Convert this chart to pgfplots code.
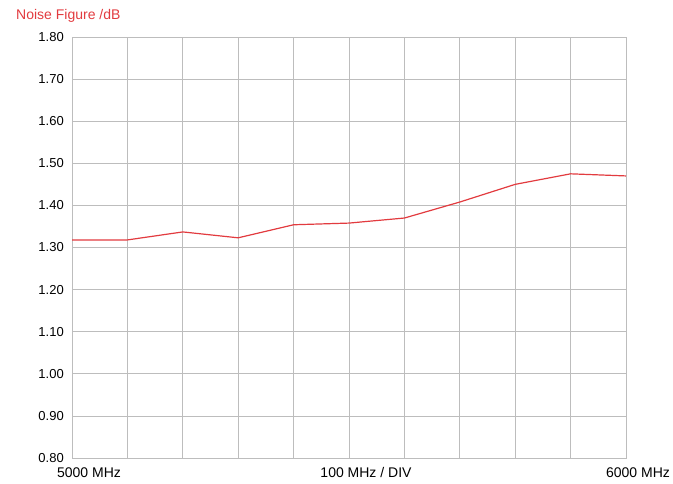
\documentclass[border=0pt]{standalone}
\usepackage{pgfplots}
\pgfplotsset{compat=1.18}
\usepackage{fontspec}
\setmainfont{Liberation Sans}
\definecolor{nfred}{HTML}{E23B3F}
\definecolor{gridgray}{HTML}{BDBDBD}
\begin{document}
\fontsize{12}{14}\selectfont
\begin{tikzpicture}[x=1pt,y=1pt]
\path[use as bounding box] (0,0) rectangle (673,483);
\begin{axis}[
  at={(72pt,25pt)}, anchor=south west,
  scale only axis, width=554pt, height=421pt,
  xmin=0, xmax=10, ymin=0.8, ymax=1.8,
  xtick={0,...,10}, xticklabels={},
  ytick={0.8,0.9,...,1.8},
  y tick label style={/pgf/number format/fixed, /pgf/number format/fixed zerofill, /pgf/number format/precision=2, font=\fontsize{13}{15}\selectfont, xshift=-4pt},
  /pgf/number format/assume math mode=true,
  grid=major,
  major grid style={gridgray, line width=0.8pt},
  axis line style={gridgray, line width=0.8pt},
  tick style={draw=none},
  clip=false,
]
\addplot[nfred, line width=1.2pt, mark=none] coordinates {
(0,1.318) (1,1.318) (2,1.337) (3,1.323) (4,1.354) (5,1.358) (6,1.370) (7,1.408) (8,1.450) (9,1.475) (10,1.470)
};
\end{axis}
\node[anchor=base west, inner sep=0pt, text=nfred, font=\fontsize{14}{16}\selectfont] at (16,463) {Noise Figure /dB};
\node[anchor=base, font=\fontsize{14}{16}\selectfont] at (89,6) {5000 MHz};
\node[anchor=base, font=\fontsize{14}{16}\selectfont] at (366,6) {100 MHz / DIV};
\node[anchor=base, font=\fontsize{14}{16}\selectfont] at (638,6) {6000 MHz};
\end{tikzpicture}
\end{document}
